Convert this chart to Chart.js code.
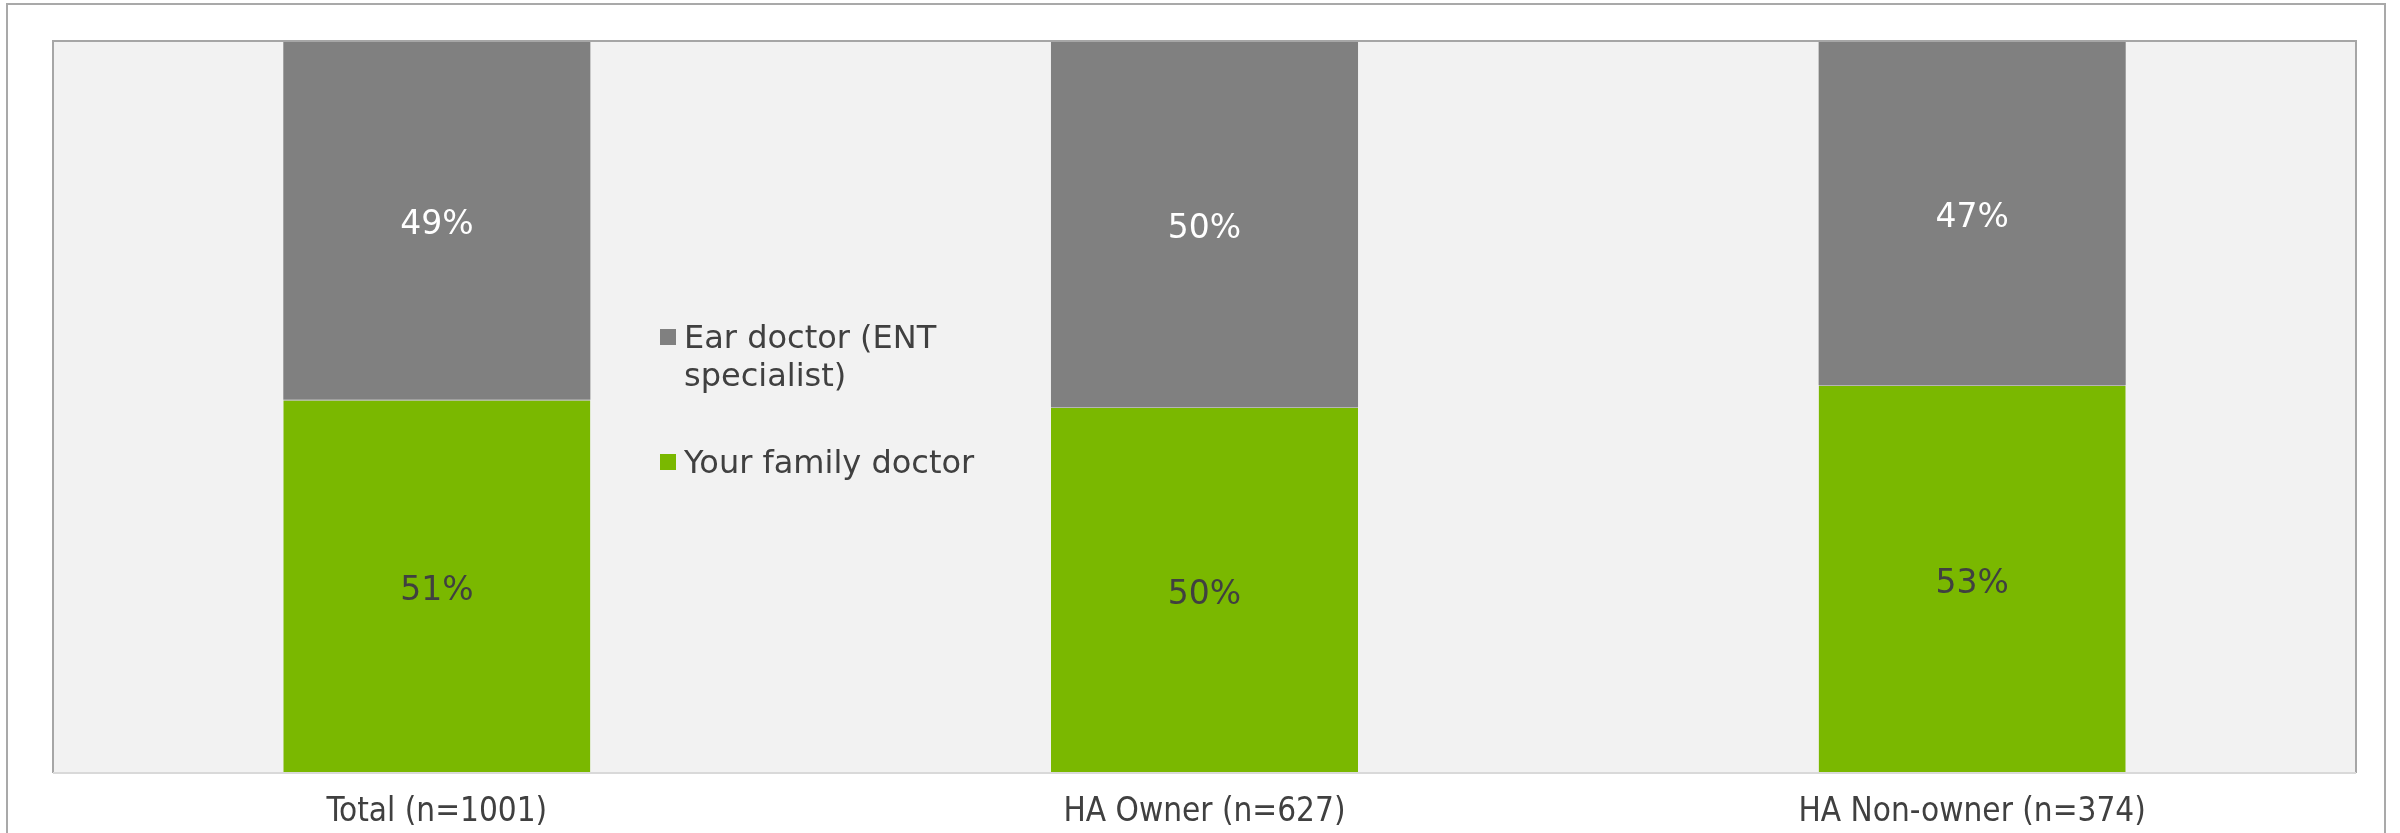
<!DOCTYPE html>
<html>
<head>
<meta charset="utf-8">
<script src="https://cdn.jsdelivr.net/npm/chart.js@4.4.1/dist/chart.umd.min.js"></script>
<style>
  html, body { margin: 0; padding: 0; background: #fff; }
  #wrap { position: relative; width: 2400px; height: 833px; overflow: hidden; }
  #frame { position: absolute; left: 6px; top: 3px; width: 2380px; height: 900px; border: 2px solid #a9a9a9; box-sizing: border-box; }
  #chart { position: absolute; left: 0; top: 0; }
  #legend { position: absolute; left: 660px; top: 318px; font-family: "DejaVu Sans", Verdana, sans-serif; font-size: 32px; line-height: 38px; color: #404040; }
  #legend ul { list-style: none; margin: 0; padding: 0; }
  #legend li { display: flex; align-items: flex-start; margin-bottom: 49px; }
  #legend .box { width: 16px; height: 16px; margin-top: 11px; margin-right: 8px; flex: none; }
  #legend .txt { width: 310px; }
</style>
</head>
<body>
<div id="wrap">
  <div id="frame"></div>
  <canvas id="chart" width="2400" height="833"></canvas>
  <div id="legend"></div>
</div>
<script>
// values
const categories = ['Total (n=1001)', 'HA Owner (n=627)', 'HA Non-owner (n=374)'];
const familyDoctor = [51, 50, 53];
const earDoctor = [49, 50, 47];
const seriesNames = ['Your family doctor', 'Ear doctor (ENT specialist)'];
const seriesColors = ['#7ab800', '#808080'];
const labelColors = ['#404040', '#ffffff'];

const TEXT = '#404040';

// plot background + frame
const plotFrame = {
  id: 'plotFrame',
  beforeDatasetsDraw(chart) {
    const { ctx, chartArea: a } = chart;
    ctx.save();
    ctx.fillStyle = '#f2f2f2';
    ctx.fillRect(a.left, a.top, a.right - a.left, a.bottom - a.top);
    ctx.restore();
  },
  afterDatasetsDraw(chart) {
    const { ctx, chartArea: a } = chart;
    ctx.save();
    ctx.lineWidth = 2;
    ctx.strokeStyle = '#a6a6a6';
    ctx.beginPath();
    ctx.moveTo(a.left, a.bottom);
    ctx.lineTo(a.left, a.top);
    ctx.lineTo(a.right, a.top);
    ctx.lineTo(a.right, a.bottom);
    ctx.stroke();
    ctx.strokeStyle = '#d9d9d9';
    ctx.beginPath();
    ctx.moveTo(a.left, a.bottom);
    ctx.lineTo(a.right, a.bottom);
    ctx.stroke();
    ctx.restore();
  }
};

// percent labels centred in each segment
const segLabels = {
  id: 'segLabels',
  afterDatasetsDraw(chart) {
    const ctx = chart.ctx;
    ctx.save();
    ctx.font = '33px "DejaVu Sans", Verdana, sans-serif';
    ctx.textAlign = 'center';
    ctx.textBaseline = 'middle';
    chart.data.datasets.forEach((ds, i) => {
      const meta = chart.getDatasetMeta(i);
      ctx.fillStyle = labelColors[i];
      meta.data.forEach((bar, j) => {
        const p = bar.getCenterPoint();
        ctx.fillText(ds.data[j] + '%', p.x, p.y + 5);
      });
    });
    ctx.restore();
  }
};

// legend as html, top series first
const htmlLegend = {
  id: 'htmlLegend',
  afterUpdate(chart) {
    const box = document.getElementById('legend');
    const ul = document.createElement('ul');
    chart.data.datasets.slice().reverse().forEach(ds => {
      const li = document.createElement('li');
      const sw = document.createElement('span');
      sw.className = 'box';
      sw.style.background = ds.backgroundColor;
      const tx = document.createElement('span');
      tx.className = 'txt';
      tx.textContent = ds.label;
      li.appendChild(sw);
      li.appendChild(tx);
      ul.appendChild(li);
    });
    box.innerHTML = '';
    box.appendChild(ul);
  }
};

new Chart(document.getElementById('chart'), {
  type: 'bar',
  data: {
    labels: categories,
    datasets: [
      { label: seriesNames[0], data: familyDoctor, backgroundColor: seriesColors[0], borderColor: '#b5b5b5', borderWidth: { top: 1 } },
      { label: seriesNames[1], data: earDoctor, backgroundColor: seriesColors[1], borderWidth: 0 }
    ]
  },
  options: {
    responsive: false,
    animation: false,
    devicePixelRatio: 1,
    layout: { padding: { left: 53, right: 44, top: 41, bottom: 0 } },
    plugins: { legend: { display: false }, tooltip: { enabled: false } },
    datasets: { bar: { categoryPercentage: 1, barPercentage: 0.4 } },
    scales: {
      x: {
        stacked: true,
        grid: { display: false, drawTicks: false },
        border: { display: false },
        ticks: { color: TEXT, padding: 20, font: { family: '"DejaVu Sans Condensed", "DejaVu Sans", sans-serif', size: 33 } },
        afterFit(scale) { scale.height = 60; }
      },
      y: {
        stacked: true, display: false, min: 0, max: 100
      }
    }
  },
  plugins: [plotFrame, segLabels, htmlLegend]
});
</script>
</body>
</html>
